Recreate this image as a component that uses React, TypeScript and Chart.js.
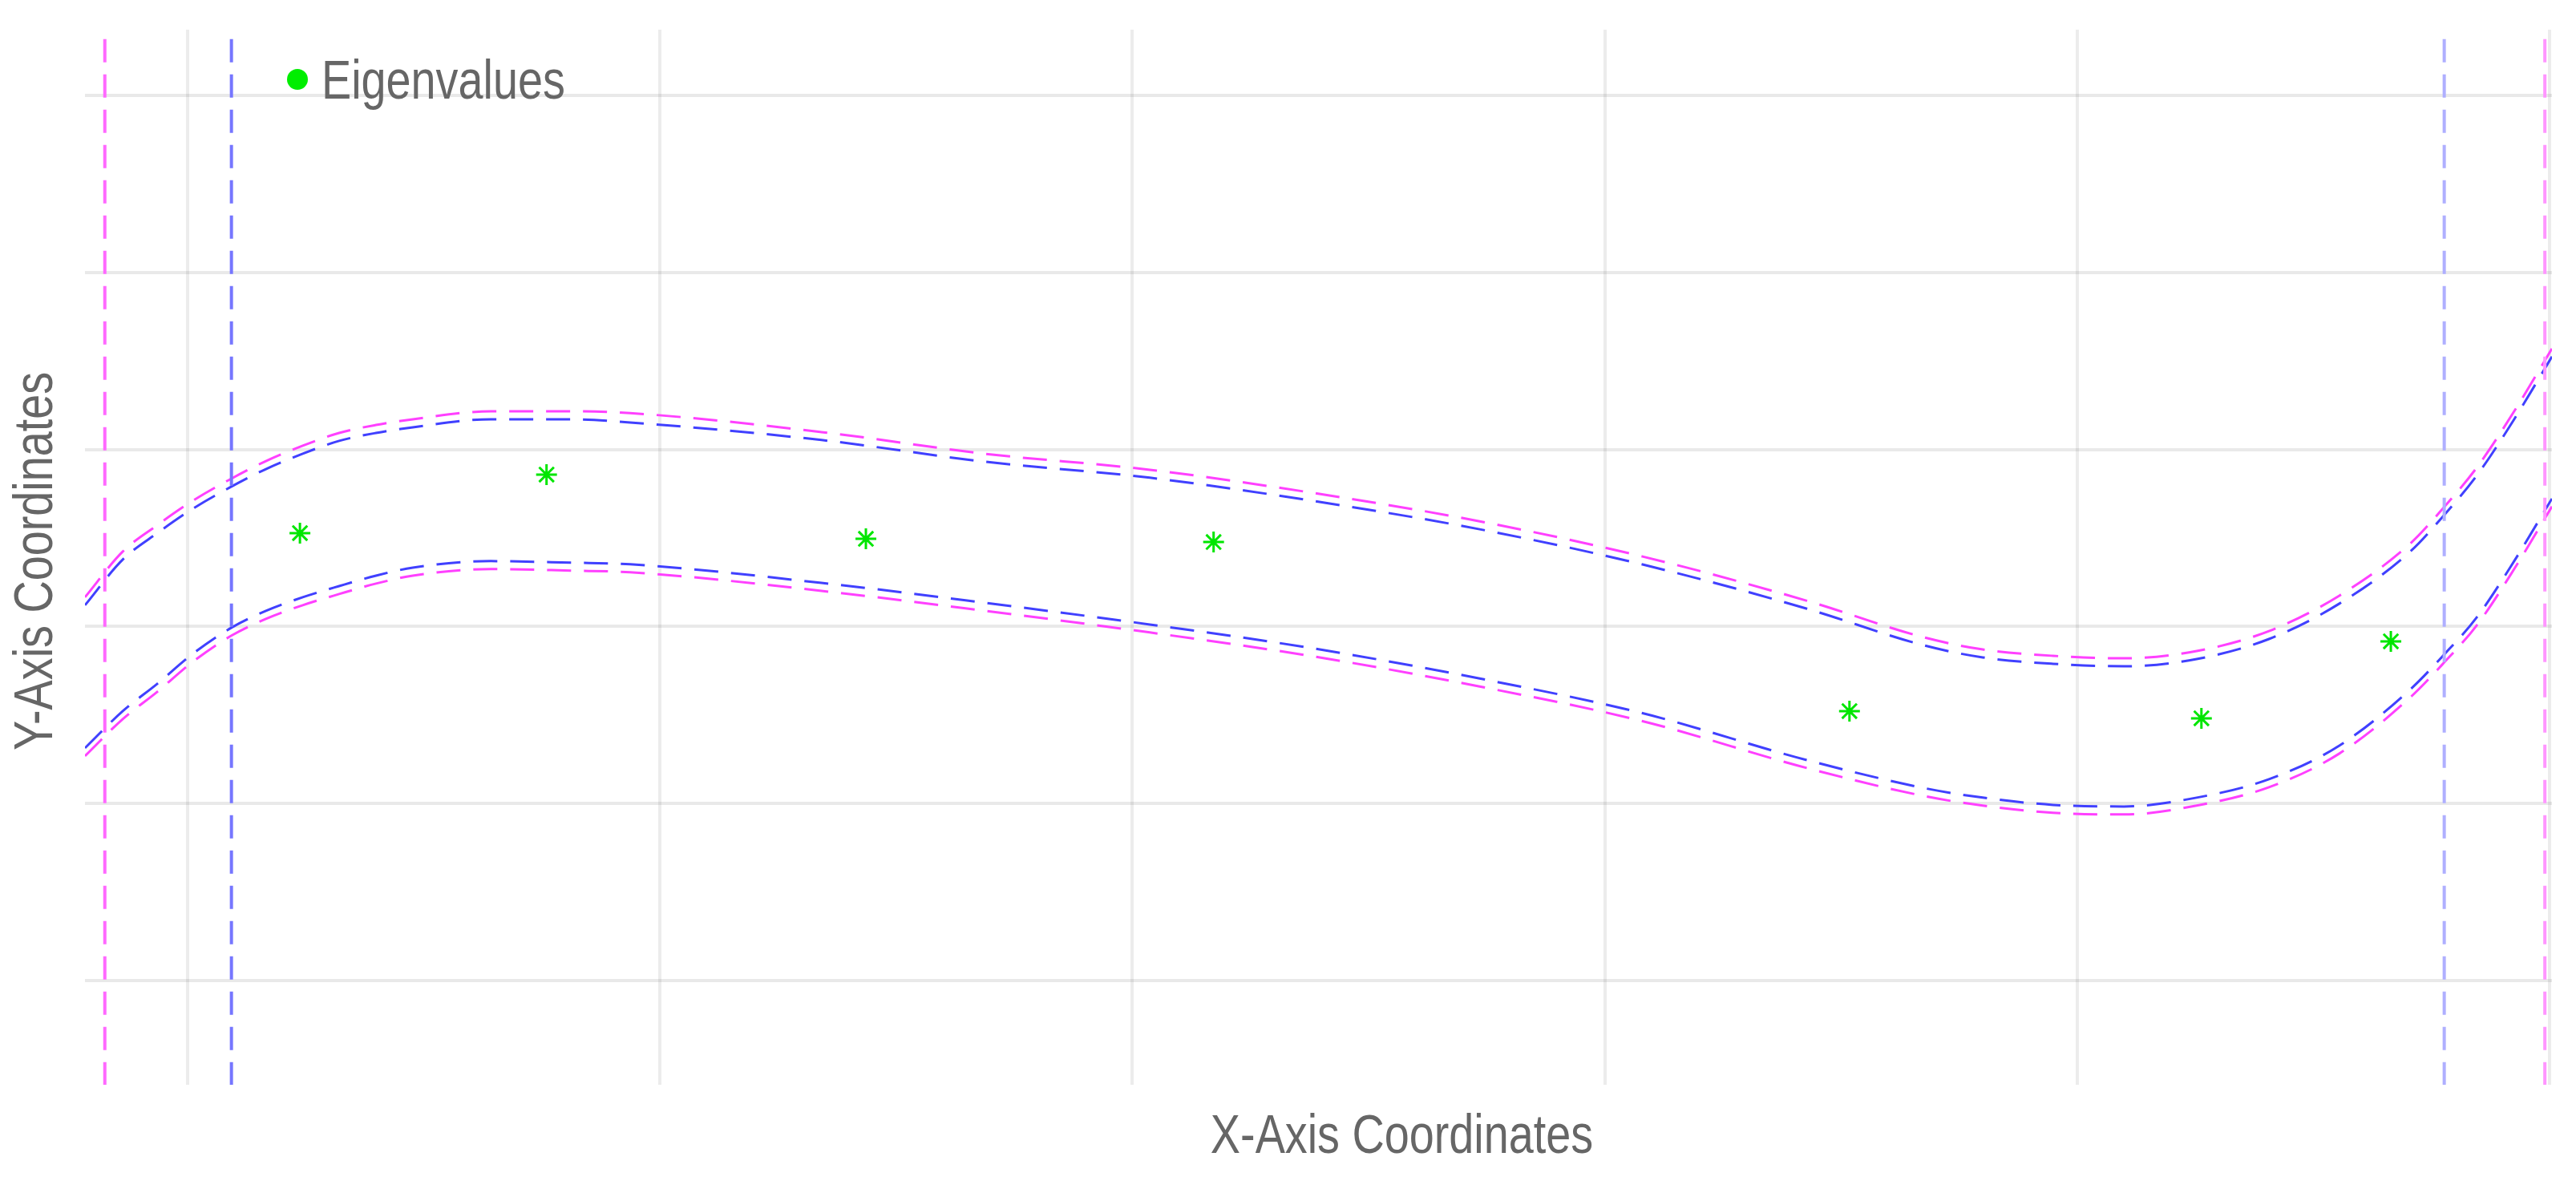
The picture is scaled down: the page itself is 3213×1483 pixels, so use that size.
import React, { useEffect, useRef } from "react";
import { Chart, registerables } from "chart.js";

Chart.register(...registerables);

// ---- data ----
const curveX = [
  -0.217, -0.137, -0.064, 0.01, 0.093, 0.166, 0.244, 0.321, 0.399, 0.477, 0.642, 0.815, 0.937,
  1.342, 1.689, 2.037, 2.385, 2.733, 3.08, 3.428, 3.676, 3.8, 3.949, 4.099, 4.253, 4.406, 4.555,
  4.705, 4.776, 4.846, 4.925, 5.005,
];
const blueUpper = [
  2.12, 2.378, 2.527, 2.663, 2.79, 2.889, 2.976, 3.048, 3.093, 3.125, 3.17, 3.17, 3.152,
  3.053, 2.93, 2.84, 2.708, 2.55, 2.35, 2.1, 1.893, 1.825, 1.789, 1.775, 1.816, 1.929, 2.129,
  2.423, 2.627, 2.853, 3.17, 3.524,
];
const magentaUpper = [
  2.165, 2.423, 2.572, 2.708, 2.835, 2.934, 3.021, 3.093, 3.138, 3.17, 3.215, 3.215, 3.205,
  3.098, 2.975, 2.885, 2.753, 2.595, 2.395, 2.145, 1.938, 1.87, 1.834, 1.82, 1.861, 1.974, 2.174,
  2.468, 2.672, 2.898, 3.215, 3.569,
];
const blueLower = [
  1.313, 1.522, 1.676, 1.843, 1.993, 2.088, 2.165, 2.228, 2.287, 2.332, 2.369, 2.36, 2.351,
  2.246, 2.133, 2.011, 1.875, 1.707, 1.51, 1.245, 1.087, 1.033, 0.992, 0.983, 1.033, 1.137, 1.327,
  1.644, 1.839, 2.052, 2.369, 2.722,
];
const magentaLower = [
  1.268, 1.477, 1.631, 1.798, 1.948, 2.043, 2.12, 2.183, 2.242, 2.287, 2.324, 2.315, 2.306,
  2.201, 2.088, 1.966, 1.83, 1.662, 1.465, 1.2, 1.042, 0.988, 0.947, 0.938, 0.988, 1.092, 1.282,
  1.599, 1.794, 2.007, 2.324, 2.677,
];
const eigenX = [0.238, 0.76, 1.436, 2.172, 3.518, 4.263, 4.664];
const eigenY = [2.527, 2.858, 2.495, 2.477, 1.522, 1.481, 1.916];
const blueBoundsX = [0.093, 4.777];
const magentaBoundsX = [-0.175, 4.99];
const xRange = [-0.217, 5.005];
const yRange = [-0.589, 5.371];

const legendLabel = "Eigenvalues";
const xTitle = "X-Axis Coordinates";
const yTitle = "Y-Axis Coordinates";

const TEXT_COLOR = "#666666";
const FONT_SIZE = 68;

function pts(xs: number[], ys: number[]) {
  return xs.map((x, i) => ({ x, y: ys[i] }));
}
function vline(x: number) {
  return [
    { x, y: yRange[0] - 1 },
    { x, y: yRange[1] + 1 },
  ];
}

export default function App() {
  const ref = useRef<HTMLCanvasElement | null>(null);

  useEffect(() => {
    const canvas = ref.current;
    if (!canvas) return;
    const probe = canvas.getContext("2d")!;
    probe.font = `${FONT_SIZE}px "Liberation Sans Narrow", monospace`;
    const a = probe.measureText("Eigenvalues mmm").width;
    probe.font = `${FONT_SIZE}px monospace`;
    const b = probe.measureText("Eigenvalues mmm").width;
    const narrowOK = Math.abs(a - b) > 0.5;
    const family = narrowOK ? '"Liberation Sans Narrow", "Arial Narrow"' : '"Liberation Sans", Arial, sans-serif';
    const squeeze = narrowOK ? 1 : 0.82;

    const drawText = (
      ctx: CanvasRenderingContext2D,
      text: string,
      x: number,
      y: number,
      align: CanvasTextAlign,
      baseline: CanvasTextBaseline,
      rot: number
    ) => {
      ctx.save();
      ctx.translate(x, y);
      ctx.rotate(rot);
      ctx.scale(squeeze, 1);
      ctx.font = `${FONT_SIZE}px ${family}`;
      ctx.fillStyle = TEXT_COLOR;
      ctx.textAlign = align;
      ctx.textBaseline = baseline;
      ctx.fillText(text, 0, 0);
      ctx.restore();
    };

    const textPlugin = {
      id: "textPlugin",
      afterDraw(chart: any) {
        const ctx = chart.ctx as CanvasRenderingContext2D;
        const area = chart.chartArea;
        // legend
        ctx.save();
        ctx.beginPath();
        ctx.fillStyle = "#00ee00";
        ctx.arc(area.left + 265, area.top + 62, 13, 0, Math.PI * 2);
        ctx.fill();
        ctx.restore();
        drawText(ctx, legendLabel, area.left + 295, area.top + 86, "left", "alphabetic", 0);
        // axis titles
        drawText(ctx, xTitle, (area.left + area.right) / 2 + 104, area.bottom + 85, "center", "alphabetic", 0);
        drawText(ctx, yTitle, 46, (area.top + area.bottom) / 2 + 5, "center", "middle", -Math.PI / 2);
      },
    };

    const curveCommon = {
      showLine: true,
      pointRadius: 0,
      borderWidth: 3,
      borderDash: [30, 16],
      cubicInterpolationMode: "monotone" as const,
      fill: false,
    };
    const vCommon = {
      showLine: true,
      pointRadius: 0,
      borderWidth: 4,
      borderDash: [29, 15],
      fill: false,
    };

    const chart = new Chart(canvas, {
      type: "scatter",
      data: {
        datasets: [
          { ...vCommon, label: "Magenta bound L", data: vline(magentaBoundsX[0]), borderColor: "rgb(255,105,255)" },
          { ...vCommon, label: "Magenta bound R", data: vline(magentaBoundsX[1]), borderColor: "rgb(255,150,255)" },
          { ...vCommon, label: "Blue bound L", data: vline(blueBoundsX[0]), borderColor: "rgb(118,118,255)" },
          { ...vCommon, label: "Blue bound R", data: vline(blueBoundsX[1]), borderColor: "rgb(175,175,255)" },
          { ...curveCommon, label: "Magenta upper", data: pts(curveX, magentaUpper), borderColor: "rgb(255,64,255)" },
          { ...curveCommon, label: "Magenta lower", data: pts(curveX, magentaLower), borderColor: "rgb(255,64,255)" },
          { ...curveCommon, label: "Blue upper", data: pts(curveX, blueUpper), borderColor: "rgb(64,64,255)" },
          { ...curveCommon, label: "Blue lower", data: pts(curveX, blueLower), borderColor: "rgb(64,64,255)" },
          {
            label: legendLabel,
            data: pts(eigenX, eigenY),
            pointStyle: "star",
            pointRadius: 13,
            pointBorderWidth: 3,
            borderColor: "#00e600",
            backgroundColor: "#00e600",
            showLine: false,
          },
        ],
      },
      options: {
        animation: false,
        responsive: true,
        maintainAspectRatio: false,
        devicePixelRatio: 1,
        layout: { padding: { left: 106, right: 30, top: 37, bottom: 130 } },
        plugins: { legend: { display: false }, tooltip: { enabled: false } },
        scales: {
          x: {
            type: "linear",
            min: xRange[0],
            max: xRange[1],
            ticks: { display: false, stepSize: 1, includeBounds: false },
            grid: { color: "rgba(0,0,0,0.075)", lineWidth: 4, drawTicks: false },
            border: { display: false },
            title: { display: false },
          },
          y: {
            type: "linear",
            min: yRange[0],
            max: yRange[1],
            ticks: { display: false, stepSize: 1, includeBounds: false },
            grid: { color: "rgba(0,0,0,0.085)", lineWidth: 4, drawTicks: false },
            border: { display: false },
            title: { display: false },
          },
        },
      },
      plugins: [textPlugin],
    });
    return () => chart.destroy();
  }, []);

  return (
    <div style={{ position: "absolute", left: 0, top: 0, width: 3213, height: 1483, background: "#fff" }}>
      <canvas ref={ref} />
    </div>
  );
}
